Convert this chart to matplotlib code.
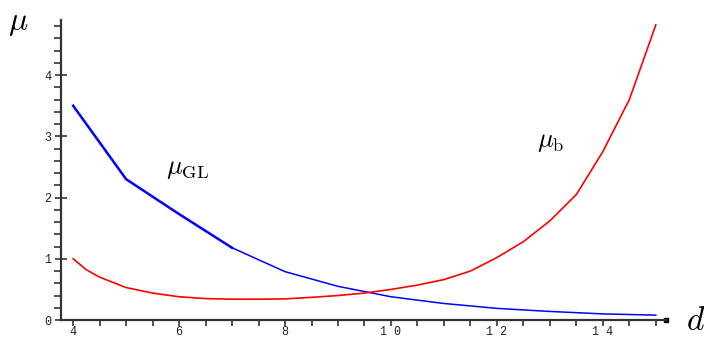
import matplotlib
matplotlib.use("Agg")
import matplotlib.pyplot as plt
from matplotlib.ticker import MultipleLocator

plt.rcParams['mathtext.fontset'] = 'cm'

# mu_GL: thick up to d=7, thin afterwards
d_gl_thick = [4, 5, 6, 7]
mu_gl_thick = [3.5, 2.3, 1.73, 1.18]
d_gl_thin = [7, 8, 9, 10, 11, 12, 13, 14, 15]
mu_gl_thin = [1.18, 0.79, 0.55, 0.38, 0.27, 0.19, 0.14, 0.10, 0.08]

# mu_b
d_b = [4, 4.25, 4.5, 5, 5.5, 6, 6.5, 7, 7.5, 8, 8.5, 9, 9.5, 10,
       10.5, 11, 11.5, 12, 12.5, 13, 13.5, 14, 14.5, 15]
mu_b = [1.0, 0.82, 0.7, 0.53, 0.44, 0.38, 0.35, 0.34, 0.34, 0.345, 0.37, 0.4,
        0.44, 0.5, 0.57, 0.66, 0.8, 1.02, 1.28, 1.62, 2.05, 2.75, 3.6, 4.82]

xticks = [4, 6, 8, 10, 12, 14]
yticks = [0, 1, 2, 3, 4]

fig = plt.figure(figsize=(7.04, 3.39), dpi=100)
ax = fig.add_axes([0.0866, 0.056, 0.86, 0.885])

ax.plot(d_gl_thick, mu_gl_thick, color='#0000ff', lw=1.8)
ax.plot(d_gl_thin, mu_gl_thin, color='#0000ff', lw=1.1)
ax.plot(d_b, mu_b, color='#ff0000', lw=1.2)

ax.set_xlim(3.77, 15.2)
ax.set_ylim(0, 4.9)

for s in ['top', 'right']:
    ax.spines[s].set_visible(False)
for s in ['left', 'bottom']:
    ax.spines[s].set_linewidth(1.6)
    ax.spines[s].set_color('#333333')
# small square cap at the end of the d axis
ax.plot([15.2], [0], marker='s', ms=3.5, color='black', clip_on=False)

ax.set_xticks(xticks)
ax.set_xticklabels([" ".join(str(t)) for t in xticks])
ax.set_yticks(yticks)
ax.xaxis.set_minor_locator(MultipleLocator(0.5))
ax.yaxis.set_minor_locator(MultipleLocator(0.2))
ax.tick_params(axis='x', which='both', direction='out', length=4, width=1.2,
               color='#333333', pad=0.5)
ax.tick_params(axis='y', which='major', direction='inout', length=8, width=1.2,
               color='#333333', pad=3)
ax.tick_params(axis='y', which='minor', direction='out', length=5, width=1.2,
               color='#333333')
for lab in ax.get_xticklabels() + ax.get_yticklabels():
    lab.set_fontfamily('Liberation Mono')
    lab.set_fontsize(8.5)
    lab.set_color('#222222')

ax.text(5.75, 2.48, r'$\mu_{\rm GL}$', fontsize=19, va='center', ha='left')
ax.text(12.75, 2.92, r'$\mu_{\rm b}$', fontsize=19, va='center', ha='left')
fig.text(0.012, 0.935, r'$\mu$', fontsize=23, va='center', ha='left')
fig.text(0.974, 0.055, r'$d$', fontsize=24, va='center', ha='left')

fig.savefig('out.png', dpi=100)
